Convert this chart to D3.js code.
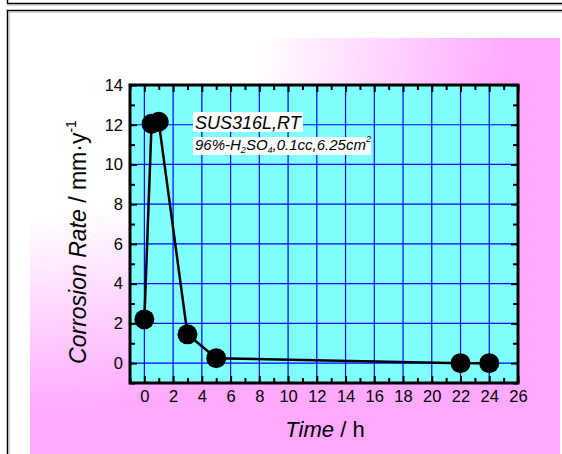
<!DOCTYPE html>
<html>
<head>
<meta charset="UTF-8">
<title>Corrosion Rate</title>
<style>
  body{ margin: 0; background: #ffffff; }
  #canvas{ width: 562px; height: 454px; }
  text{ font-family: "Liberation Sans", Arial, sans-serif; }
</style>
<script src="https://cdn.jsdelivr.net/npm/d3@7/dist/d3.min.js"></script>
</head>
<body>
<div id="canvas"></div>
<script>
//data
var times = [0, 0.5, 1, 3, 5, 22, 24];
var rates = [2.2, 12.05, 12.15, 1.45, 0.25, 0.0, 0.0];
var xTicks = [0, 2, 4, 6, 8, 10, 12, 14, 16, 18, 20, 22, 24, 26];
var yTicks = [0, 2, 4, 6, 8, 10, 12, 14];
var xMinor = [-1, 1, 3, 5, 7, 9, 11, 13, 15, 17, 19, 21, 23, 25];
var yMinor = [-1, 1, 3, 5, 7, 9, 11, 13];

var width = 562, height = 454;
var plot = {left: 130, top: 85, right: 518, bottom: 383};

var svg = d3.select("#canvas").append("svg")
  .attr("width", width)
  .attr("height", height);

var defs = svg.append("defs");
var grad = defs.append("radialGradient")
  .attr("id", "bg")
  .attr("cx", 0).attr("cy", 0).attr("r", 1)
  .attr("fx", 0).attr("fy", 0);
grad.append("stop").attr("offset", 0.43).attr("stop-color", "#ffffff");
grad.append("stop").attr("offset", 0.9).attr("stop-color", "#ffaaff");

//frame
svg.append("line").attr("x1", 7).attr("x2", 562).attr("y1", 3.5).attr("y2", 3.5)
  .attr("stroke", "#000").attr("stroke-width", 1.5);
svg.append("line").attr("x1", 7).attr("x2", 562).attr("y1", 5).attr("y2", 5)
  .attr("stroke", "#aaa").attr("stroke-width", 1);
svg.append("line").attr("x1", 7.5).attr("x2", 7.5).attr("y1", 0).attr("y2", 4)
  .attr("stroke", "#000").attr("stroke-width", 1.5);
svg.append("path").attr("d", "M7.5,454 V10.5 H562")
  .attr("fill", "none").attr("stroke", "#000").attr("stroke-width", 1.5);
svg.append("path").attr("d", "M9,454 V12 H562")
  .attr("fill", "none").attr("stroke", "#aaa").attr("stroke-width", 1);

svg.append("rect")
  .attr("x", 30).attr("y", 38).attr("width", 530).attr("height", 416)
  .attr("fill", "url(#bg)");

//scale
var x = d3.scaleLinear().domain([-1, 26]).range([plot.left, plot.right]);
var y = d3.scaleLinear().domain([-1, 14]).range([plot.bottom, plot.top]);

svg.append("rect")
  .attr("x", plot.left).attr("y", plot.top)
  .attr("width", plot.right - plot.left).attr("height", plot.bottom - plot.top)
  .attr("fill", "#80ffff");

//grid
svg.append("g").selectAll("line")
  .data(xTicks.filter(function(d) { return d < 26; }))
  .enter().append("line")
  .attr("x1", function(d) { return x(d); }).attr("x2", function(d) { return x(d); })
  .attr("y1", plot.top).attr("y2", plot.bottom)
  .attr("stroke", "#0000ff").attr("stroke-width", 1.2);
svg.append("g").selectAll("line")
  .data(yTicks.filter(function(d) { return d < 14; }))
  .enter().append("line")
  .attr("y1", function(d) { return y(d); }).attr("y2", function(d) { return y(d); })
  .attr("x1", plot.left).attr("x2", plot.right)
  .attr("stroke", "#0000ff").attr("stroke-width", 1.2);

//axes
var ih = plot.bottom - plot.top, iw = plot.right - plot.left;
function styleAxis(g) {
  g.select(".domain").remove();
  g.selectAll(".tick line").attr("stroke", "#000").attr("stroke-width", 2);
  g.selectAll(".tick text").attr("font-family", "Liberation Sans, Arial, sans-serif")
    .attr("font-size", 16.5).attr("fill", "#000");
}

var bottom = svg.append("g").attr("transform", "translate(0," + plot.bottom + ")")
  .call(d3.axisBottom(x).tickValues(xTicks).tickSize(-7).tickPadding(10).tickFormat(d3.format("d")));
styleAxis(bottom);
bottom.selectAll(".tick text").attr("dy", "0.71em").attr("y", 7.5);
svg.append("g").attr("transform", "translate(0," + plot.bottom + ")")
  .call(d3.axisBottom(x).tickValues(xMinor).tickSize(-5).tickFormat(""))
  .call(styleAxis);
svg.append("g").attr("transform", "translate(0," + plot.top + ")")
  .call(d3.axisTop(x).tickValues(xTicks).tickSize(-7).tickFormat(""))
  .call(styleAxis);
svg.append("g").attr("transform", "translate(0," + plot.top + ")")
  .call(d3.axisTop(x).tickValues(xMinor).tickSize(-5).tickFormat(""))
  .call(styleAxis);

var left = svg.append("g").attr("transform", "translate(" + plot.left + ",0)")
  .call(d3.axisLeft(y).tickValues(yTicks).tickSize(-7).tickPadding(14).tickFormat(d3.format("d")));
styleAxis(left);
left.selectAll(".tick text").attr("x", -7);
svg.append("g").attr("transform", "translate(" + plot.left + ",0)")
  .call(d3.axisLeft(y).tickValues(yMinor).tickSize(-5).tickFormat(""))
  .call(styleAxis);
svg.append("g").attr("transform", "translate(" + plot.right + ",0)")
  .call(d3.axisRight(y).tickValues(yTicks).tickSize(-7).tickFormat(""))
  .call(styleAxis);
svg.append("g").attr("transform", "translate(" + plot.right + ",0)")
  .call(d3.axisRight(y).tickValues(yMinor).tickSize(-5).tickFormat(""))
  .call(styleAxis);

svg.append("rect")
  .attr("x", plot.left).attr("y", plot.top)
  .attr("width", iw).attr("height", ih)
  .attr("fill", "none").attr("stroke", "#000").attr("stroke-width", 3);

//data line + markers
var pts = times.map(function(t, i) { return [t, rates[i]]; });
svg.append("path")
  .datum(pts)
  .attr("fill", "none").attr("stroke", "#000").attr("stroke-width", 2.5)
  .attr("d", d3.line().x(function(d) { return x(d[0]); }).y(function(d) { return y(d[1]); }));
svg.append("g").selectAll("circle")
  .data(pts)
  .enter().append("circle")
  .attr("cx", function(d) { return x(d[0]); })
  .attr("cy", function(d) { return y(d[1]); })
  .attr("r", 10)
  .attr("fill", "#000");

//annotation
svg.append("rect").attr("x", 193).attr("y", 112).attr("width", 110).attr("height", 20).attr("fill", "#fff");
svg.append("rect").attr("x", 193).attr("y", 137).attr("width", 178).attr("height", 18).attr("fill", "#fff");
svg.append("text").attr("x", 195).attr("y", 128.5)
  .attr("font-size", 18).attr("font-style", "italic").text("SUS316L,RT");
var t2 = svg.append("text").attr("x", 195).attr("y", 150)
  .attr("font-size", 15).attr("font-style", "italic");
t2.append("tspan").text("96%-H");
t2.append("tspan").attr("font-size", 9).attr("dy", 3).text("2");
t2.append("tspan").attr("dy", -3).text("SO");
t2.append("tspan").attr("font-size", 9).attr("dy", 3).text("4");
t2.append("tspan").attr("dy", -3).text(",0.1cc,6.25cm");
t2.append("tspan").attr("font-size", 9).attr("dy", -8).text("2");

//axis titles
var xt = svg.append("text").attr("x", 325).attr("y", 437)
  .attr("text-anchor", "middle").attr("font-size", 22);
xt.append("tspan").attr("font-style", "italic").text("Time");
xt.append("tspan").text(" / h");

var yt = svg.append("text")
  .attr("transform", "translate(86,242) rotate(-90)")
  .attr("text-anchor", "middle").attr("font-size", 23);
yt.append("tspan").attr("font-style", "italic").text("Corrosion Rate");
yt.append("tspan").text(" / mm\u00b7y");
yt.append("tspan").attr("font-size", 14).attr("dy", -10).text("-1");
</script>
</body>
</html>
